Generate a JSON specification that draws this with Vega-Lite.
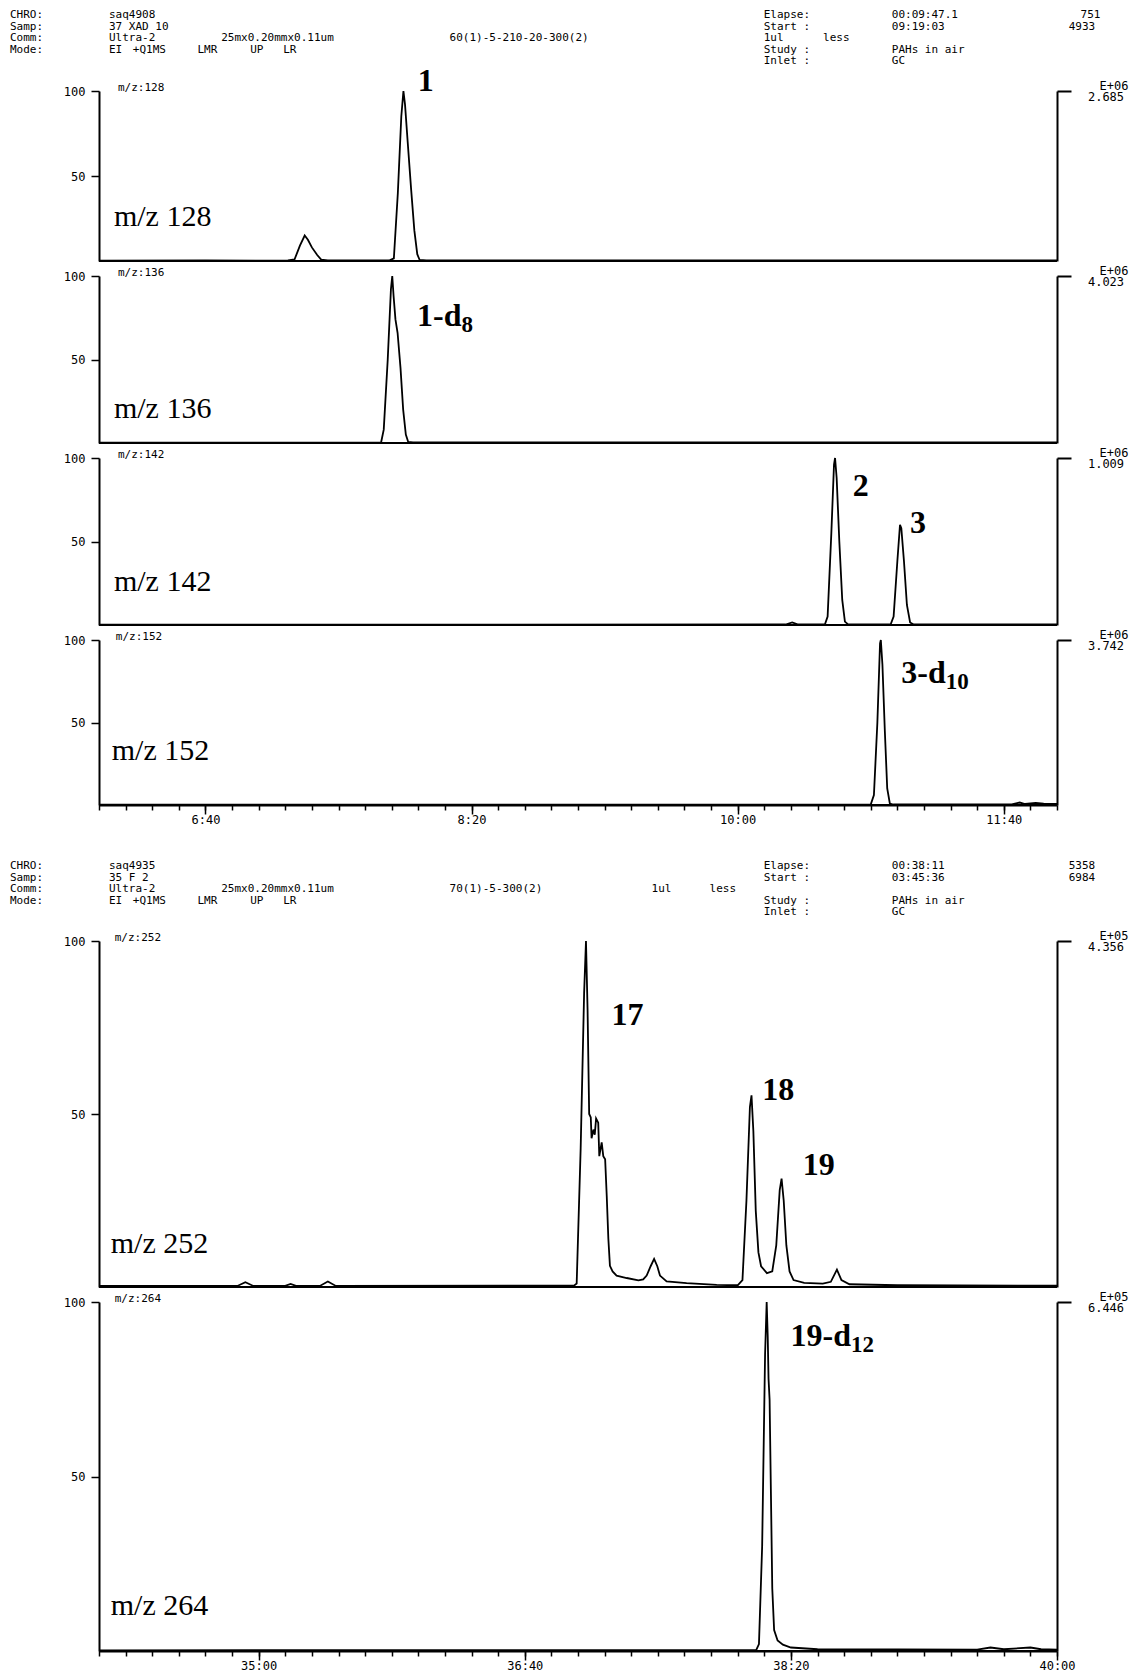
{
  "$schema": "https://vega.github.io/schema/vega-lite/v6.json",
  "padding": {"left": 10, "top": 0, "right": 0, "bottom": 0},
  "background": "white",
  "spacing": 15,
  "bounds": "flush",
  "resolve": {"scale": {"x": "independent", "y": "independent"}},
  "config": {
    "view": {"stroke": null},
    "axis": {"domainColor": "black", "tickColor": "black", "labelColor": "black", "labelFont": "DejaVu Sans Mono", "labelFontSize": 12, "domainWidth": 2, "tickWidth": 1.5, "grid": false},
    "text": {"color": "black"}
  },
  "datasets": {
    "head1": [
      {"line": 1, "col": 0, "text": "CHRO:"}, {"line": 1, "col": 7.5, "text": "saq4908"}, {"line": 1, "col": 57.1, "text": "Elapse:"}, {"line": 1, "col": 66.8, "text": "00:09:47.1"}, {"line": 1, "col": 81.1, "text": "751"},
      {"line": 2, "col": 0, "text": "Samp:"}, {"line": 2, "col": 7.5, "text": "37 XAD 10"}, {"line": 2, "col": 57.1, "text": "Start :"}, {"line": 2, "col": 66.8, "text": "09:19:03"}, {"line": 2, "col": 80.2, "text": "4933"},
      {"line": 3, "col": 0, "text": "Comm:"}, {"line": 3, "col": 7.5, "text": "Ultra-2"}, {"line": 3, "col": 16, "text": "25mx0.20mmx0.11um"}, {"line": 3, "col": 33.3, "text": "60(1)-5-210-20-300(2)"}, {"line": 3, "col": 57.1, "text": "1ul"}, {"line": 3, "col": 61.6, "text": "less"},
      {"line": 4, "col": 0, "text": "Mode:"}, {"line": 4, "col": 7.5, "text": "EI"}, {"line": 4, "col": 9.3, "text": "+Q1MS"}, {"line": 4, "col": 14.2, "text": "LMR"}, {"line": 4, "col": 18.2, "text": "UP"}, {"line": 4, "col": 20.7, "text": "LR"}, {"line": 4, "col": 57.1, "text": "Study :"}, {"line": 4, "col": 66.8, "text": "PAHs in air"},
      {"line": 5, "col": 57.1, "text": "Inlet :"}, {"line": 5, "col": 66.8, "text": "GC"}
    ],
    "head2": [
      {"line": 1, "col": 0, "text": "CHRO:"}, {"line": 1, "col": 7.5, "text": "saq4935"}, {"line": 1, "col": 57.1, "text": "Elapse:"}, {"line": 1, "col": 66.8, "text": "00:38:11"}, {"line": 1, "col": 80.2, "text": "5358"},
      {"line": 2, "col": 0, "text": "Samp:"}, {"line": 2, "col": 7.5, "text": "35 F 2"}, {"line": 2, "col": 57.1, "text": "Start :"}, {"line": 2, "col": 66.8, "text": "03:45:36"}, {"line": 2, "col": 80.2, "text": "6984"},
      {"line": 3, "col": 0, "text": "Comm:"}, {"line": 3, "col": 7.5, "text": "Ultra-2"}, {"line": 3, "col": 16, "text": "25mx0.20mmx0.11um"}, {"line": 3, "col": 33.3, "text": "70(1)-5-300(2)"}, {"line": 3, "col": 48.6, "text": "1ul"}, {"line": 3, "col": 53, "text": "less"},
      {"line": 4, "col": 0, "text": "Mode:"}, {"line": 4, "col": 7.5, "text": "EI"}, {"line": 4, "col": 9.3, "text": "+Q1MS"}, {"line": 4, "col": 14.2, "text": "LMR"}, {"line": 4, "col": 18.2, "text": "UP"}, {"line": 4, "col": 20.7, "text": "LR"}, {"line": 4, "col": 57.1, "text": "Study :"}, {"line": 4, "col": 66.8, "text": "PAHs in air"},
      {"line": 5, "col": 57.1, "text": "Inlet :"}, {"line": 5, "col": 66.8, "text": "GC"}
    ],
    "info": [
      {"p": "128", "t": 365.6, "i": 26, "name": "m/z 128", "tag": "m/z:128", "exp": "E+06", "scale": "2.685"},
      {"p": "136", "t": 365.6, "i": 20.4, "name": "m/z 136", "tag": "m/z:136", "exp": "E+06", "scale": "4.023"},
      {"p": "142", "t": 365.6, "i": 25.8, "name": "m/z 142", "tag": "m/z:142", "exp": "E+06", "scale": "1.009"},
      {"p": "152", "t": 364.8, "i": 32.7, "name": "m/z 152", "tag": "m/z:152", "exp": "E+06", "scale": "3.742"},
      {"p": "252", "t": 2044.4, "i": 12.4, "name": "m/z 252", "tag": "m/z:252", "exp": "E+05", "scale": "4.356"},
      {"p": "264", "t": 2044.4, "i": 12.9, "name": "m/z 264", "tag": "m/z:264", "exp": "E+05", "scale": "6.446"}
    ],
    "peaks": [
      {"p": "128", "t": 485.8, "i": 106, "label": "1", "sub": ""},
      {"p": "136", "t": 496.2, "i": 75.8, "label": "1-d", "sub": "8"},
      {"p": "142", "t": 649.3, "i": 83.2, "label": "2", "sub": ""},
      {"p": "142", "t": 670.8, "i": 61.3, "label": "3", "sub": ""},
      {"p": "152", "t": 678.2, "i": 79.7, "label": "3-d", "sub": "10"},
      {"p": "252", "t": 2244.6, "i": 78.6, "label": "17", "sub": ""},
      {"p": "252", "t": 2301.3, "i": 57, "label": "18", "sub": ""},
      {"p": "252", "t": 2316.5, "i": 35.3, "label": "19", "sub": ""},
      {"p": "264", "t": 2322.6, "i": 90.2, "label": "19-d", "sub": "12"}
    ],
    "traces": [
      {"p": "128", "t": 360, "i": 0.2}, {"p": "128", "t": 400, "i": 0.3}, {"p": "128", "t": 425, "i": 0.2}, {"p": "128", "t": 431, "i": 0.4}, {"p": "128", "t": 433.5, "i": 1}, {"p": "128", "t": 435.5, "i": 9}, {"p": "128", "t": 437.3, "i": 15}, {"p": "128", "t": 438.5, "i": 12.5}, {"p": "128", "t": 440, "i": 8}, {"p": "128", "t": 442, "i": 3.5}, {"p": "128", "t": 443.5, "i": 0.8}, {"p": "128", "t": 446, "i": 0.3}, {"p": "128", "t": 469, "i": 0.3}, {"p": "128", "t": 470.8, "i": 1.5}, {"p": "128", "t": 472.3, "i": 40}, {"p": "128", "t": 473.6, "i": 85}, {"p": "128", "t": 474.4, "i": 100}, {"p": "128", "t": 475, "i": 92}, {"p": "128", "t": 476, "i": 70}, {"p": "128", "t": 477.3, "i": 42}, {"p": "128", "t": 478.5, "i": 18}, {"p": "128", "t": 479.6, "i": 4}, {"p": "128", "t": 480.5, "i": 0.6}, {"p": "128", "t": 483, "i": 0.3}, {"p": "128", "t": 720, "i": 0.3},
      {"p": "136", "t": 360, "i": 0.2}, {"p": "136", "t": 466, "i": 0.3}, {"p": "136", "t": 467, "i": 8}, {"p": "136", "t": 468.5, "i": 50}, {"p": "136", "t": 469.7, "i": 92}, {"p": "136", "t": 470.2, "i": 100}, {"p": "136", "t": 470.7, "i": 88}, {"p": "136", "t": 471.4, "i": 74}, {"p": "136", "t": 472.2, "i": 66}, {"p": "136", "t": 473.3, "i": 45}, {"p": "136", "t": 474.3, "i": 20}, {"p": "136", "t": 475.3, "i": 5}, {"p": "136", "t": 476.2, "i": 0.6}, {"p": "136", "t": 478, "i": 0.3}, {"p": "136", "t": 720, "i": 0.3},
      {"p": "142", "t": 360, "i": 0.2}, {"p": "142", "t": 618, "i": 0.3}, {"p": "142", "t": 620.5, "i": 1.5}, {"p": "142", "t": 622.5, "i": 0.4}, {"p": "142", "t": 632.8, "i": 0.4}, {"p": "142", "t": 633.8, "i": 5}, {"p": "142", "t": 635.2, "i": 55}, {"p": "142", "t": 636.2, "i": 96}, {"p": "142", "t": 636.6, "i": 100}, {"p": "142", "t": 637.2, "i": 88}, {"p": "142", "t": 638.2, "i": 50}, {"p": "142", "t": 639.3, "i": 15}, {"p": "142", "t": 640.3, "i": 2}, {"p": "142", "t": 641.5, "i": 0.4}, {"p": "142", "t": 657.5, "i": 0.4}, {"p": "142", "t": 658.6, "i": 5}, {"p": "142", "t": 660, "i": 38}, {"p": "142", "t": 661, "i": 60}, {"p": "142", "t": 661.5, "i": 58}, {"p": "142", "t": 662.5, "i": 38}, {"p": "142", "t": 663.6, "i": 12}, {"p": "142", "t": 664.8, "i": 1.5}, {"p": "142", "t": 666, "i": 0.4}, {"p": "142", "t": 720, "i": 0.3},
      {"p": "152", "t": 360, "i": 0.2}, {"p": "152", "t": 650, "i": 0.3}, {"p": "152", "t": 651.2, "i": 6}, {"p": "152", "t": 652.5, "i": 50}, {"p": "152", "t": 653.5, "i": 98}, {"p": "152", "t": 653.8, "i": 100}, {"p": "152", "t": 654.4, "i": 85}, {"p": "152", "t": 655.3, "i": 45}, {"p": "152", "t": 656.2, "i": 10}, {"p": "152", "t": 657.2, "i": 0.8}, {"p": "152", "t": 658.5, "i": 0.3}, {"p": "152", "t": 703, "i": 0.4}, {"p": "152", "t": 706, "i": 1.5}, {"p": "152", "t": 708, "i": 0.6}, {"p": "152", "t": 712, "i": 1.2}, {"p": "152", "t": 715, "i": 0.8}, {"p": "152", "t": 720, "i": 0.6},
      {"p": "252", "t": 2040, "i": 0.3}, {"p": "252", "t": 2092, "i": 0.3}, {"p": "252", "t": 2095, "i": 1.4}, {"p": "252", "t": 2098, "i": 0.3}, {"p": "252", "t": 2110, "i": 0.3}, {"p": "252", "t": 2112, "i": 0.9}, {"p": "252", "t": 2114, "i": 0.3}, {"p": "252", "t": 2123, "i": 0.3}, {"p": "252", "t": 2126, "i": 1.6}, {"p": "252", "t": 2129, "i": 0.3}, {"p": "252", "t": 2218.5, "i": 0.4}, {"p": "252", "t": 2219.5, "i": 1}, {"p": "252", "t": 2221, "i": 40}, {"p": "252", "t": 2222.3, "i": 85}, {"p": "252", "t": 2223, "i": 100}, {"p": "252", "t": 2223.6, "i": 80}, {"p": "252", "t": 2224.2, "i": 50}, {"p": "252", "t": 2224.8, "i": 49}, {"p": "252", "t": 2225.1, "i": 43}, {"p": "252", "t": 2225.8, "i": 45.5}, {"p": "252", "t": 2226.3, "i": 44}, {"p": "252", "t": 2226.8, "i": 48.7}, {"p": "252", "t": 2227.6, "i": 47.5}, {"p": "252", "t": 2228, "i": 37.8}, {"p": "252", "t": 2228.9, "i": 41.8}, {"p": "252", "t": 2229.5, "i": 37.8}, {"p": "252", "t": 2230.2, "i": 36.9}, {"p": "252", "t": 2230.8, "i": 26.3}, {"p": "252", "t": 2231.4, "i": 14}, {"p": "252", "t": 2232, "i": 6.1}, {"p": "252", "t": 2233, "i": 4.5}, {"p": "252", "t": 2234.5, "i": 3.3}, {"p": "252", "t": 2238.3, "i": 2.6}, {"p": "252", "t": 2242.7, "i": 1.9}, {"p": "252", "t": 2244.5, "i": 2.2}, {"p": "252", "t": 2245.8, "i": 3.3}, {"p": "252", "t": 2247.3, "i": 6}, {"p": "252", "t": 2248.6, "i": 8.1}, {"p": "252", "t": 2249.8, "i": 6}, {"p": "252", "t": 2250.8, "i": 3.3}, {"p": "252", "t": 2253.3, "i": 1.6}, {"p": "252", "t": 2260.8, "i": 1.1}, {"p": "252", "t": 2272.1, "i": 0.6}, {"p": "252", "t": 2280, "i": 0.5}, {"p": "252", "t": 2281.8, "i": 2}, {"p": "252", "t": 2283.3, "i": 25}, {"p": "252", "t": 2284.6, "i": 52}, {"p": "252", "t": 2285.2, "i": 55.4}, {"p": "252", "t": 2285.9, "i": 45}, {"p": "252", "t": 2286.8, "i": 22}, {"p": "252", "t": 2287.8, "i": 10}, {"p": "252", "t": 2288.8, "i": 6}, {"p": "252", "t": 2291, "i": 4}, {"p": "252", "t": 2293, "i": 4.5}, {"p": "252", "t": 2294.5, "i": 12}, {"p": "252", "t": 2295.8, "i": 28}, {"p": "252", "t": 2296.5, "i": 31.3}, {"p": "252", "t": 2297.3, "i": 25}, {"p": "252", "t": 2298.3, "i": 12}, {"p": "252", "t": 2299.5, "i": 4.5}, {"p": "252", "t": 2301, "i": 2}, {"p": "252", "t": 2305, "i": 1.2}, {"p": "252", "t": 2312, "i": 1}, {"p": "252", "t": 2315, "i": 1.5}, {"p": "252", "t": 2317.3, "i": 5}, {"p": "252", "t": 2319, "i": 2}, {"p": "252", "t": 2322, "i": 0.8}, {"p": "252", "t": 2340, "i": 0.5}, {"p": "252", "t": 2400, "i": 0.4},
      {"p": "264", "t": 2040, "i": 0.2}, {"p": "264", "t": 2287, "i": 0.3}, {"p": "264", "t": 2288, "i": 2}, {"p": "264", "t": 2289.2, "i": 30}, {"p": "264", "t": 2290.3, "i": 85}, {"p": "264", "t": 2290.9, "i": 100}, {"p": "264", "t": 2291.3, "i": 90}, {"p": "264", "t": 2291.6, "i": 78}, {"p": "264", "t": 2292, "i": 72}, {"p": "264", "t": 2292.5, "i": 45}, {"p": "264", "t": 2293, "i": 18}, {"p": "264", "t": 2293.7, "i": 6}, {"p": "264", "t": 2295, "i": 3}, {"p": "264", "t": 2297, "i": 1.8}, {"p": "264", "t": 2300, "i": 1}, {"p": "264", "t": 2310, "i": 0.5}, {"p": "264", "t": 2370, "i": 0.4}, {"p": "264", "t": 2375, "i": 1}, {"p": "264", "t": 2380, "i": 0.5}, {"p": "264", "t": 2390, "i": 1}, {"p": "264", "t": 2394, "i": 0.5}, {"p": "264", "t": 2400, "i": 0.4}
    ]
  },
  "vconcat": [
    {
      "width": 958, "height": 76,
      "data": {"name": "head1"},
      "mark": {"type": "text", "align": "left", "baseline": "middle", "font": "DejaVu Sans Mono", "fontSize": 11},
      "encoding": {
        "x": {"field": "col", "type": "quantitative", "scale": {"domain": [0, 83], "range": [-89, 1006.6], "nice": false, "zero": false}, "axis": null},
        "y": {"field": "line", "type": "quantitative", "scale": {"domain": [1, 5], "range": [15, 61], "nice": false, "zero": false}, "axis": null},
        "text": {"field": "text"}
      }
    },
    {
      "width": 958, "height": 170,
      "resolve": {"axis": {"y": "independent"}},
      "layer": [
        {"data": {"values": [{}]}, "mark": {"type": "rule", "color": "black", "strokeWidth": 2}, "encoding": {"y": {"datum": 0, "scale": {"domain": [0, 100], "nice": false}, "axis": {"orient": "right", "values": [100], "labels": false, "tickSize": 14, "tickWidth": 2, "title": null}}}},
        {"data": {"name": "traces"}, "transform": [{"filter": "datum.p === '128'"}], "mark": {"type": "line", "color": "black", "strokeWidth": 1.8}, "encoding": {"x": {"field": "t", "type": "quantitative", "scale": {"domain": [360, 720], "nice": false, "zero": false}, "axis": null}, "y": {"field": "i", "type": "quantitative", "axis": {"orient": "left", "values": [50, 100], "tickSize": 8, "labelPadding": 6, "title": null}}}},
        {"data": {"name": "info"}, "transform": [{"filter": "datum.p === '128'"}], "mark": {"type": "text", "font": "Liberation Serif", "fontSize": 30, "align": "left", "baseline": "middle"}, "encoding": {"x": {"field": "t", "type": "quantitative", "axis": null}, "y": {"field": "i", "type": "quantitative", "axis": null}, "text": {"field": "name"}}},
        {"data": {"name": "info"}, "transform": [{"filter": "datum.p === '128'"}], "mark": {"type": "text", "font": "DejaVu Sans Mono", "fontSize": 11, "align": "left", "baseline": "middle", "dx": 4, "dy": -3}, "encoding": {"x": {"field": "t", "type": "quantitative", "axis": null}, "y": {"datum": 100, "axis": null}, "text": {"field": "tag"}}},
        {"data": {"name": "info"}, "transform": [{"filter": "datum.p === '128'"}], "mark": {"type": "text", "font": "DejaVu Sans Mono", "fontSize": 12, "align": "center", "baseline": "middle", "dx": 57, "dy": -5}, "encoding": {"x": {"datum": 720, "axis": null}, "y": {"datum": 100, "axis": null}, "text": {"field": "exp"}}},
        {"data": {"name": "info"}, "transform": [{"filter": "datum.p === '128'"}], "mark": {"type": "text", "font": "DejaVu Sans Mono", "fontSize": 12, "align": "center", "baseline": "middle", "dx": 49, "dy": 6}, "encoding": {"x": {"datum": 720, "axis": null}, "y": {"datum": 100, "axis": null}, "text": {"field": "scale"}}},
        {"data": {"name": "peaks"}, "transform": [{"filter": "datum.p === '128'"}], "mark": {"type": "text", "font": "Liberation Serif", "fontWeight": "bold", "fontSize": 32, "align": "right", "baseline": "middle"}, "encoding": {"x": {"field": "t", "type": "quantitative", "axis": null}, "y": {"field": "i", "type": "quantitative", "axis": null}, "text": {"field": "label"}}},
        {"data": {"name": "peaks"}, "transform": [{"filter": "datum.p === '128'"}], "mark": {"type": "text", "font": "Liberation Serif", "fontWeight": "bold", "fontSize": 23, "align": "left", "baseline": "middle", "dy": 9}, "encoding": {"x": {"field": "t", "type": "quantitative", "axis": null}, "y": {"field": "i", "type": "quantitative", "axis": null}, "text": {"field": "sub"}}}
      ]
    },
    {
      "width": 958, "height": 167,
      "resolve": {"axis": {"y": "independent"}},
      "layer": [
        {"data": {"values": [{}]}, "mark": {"type": "rule", "color": "black", "strokeWidth": 2}, "encoding": {"y": {"datum": 0, "scale": {"domain": [0, 100], "nice": false}, "axis": {"orient": "right", "values": [100], "labels": false, "tickSize": 14, "tickWidth": 2, "title": null}}}},
        {"data": {"name": "traces"}, "transform": [{"filter": "datum.p === '136'"}], "mark": {"type": "line", "color": "black", "strokeWidth": 1.8}, "encoding": {"x": {"field": "t", "type": "quantitative", "scale": {"domain": [360, 720], "nice": false, "zero": false}, "axis": null}, "y": {"field": "i", "type": "quantitative", "axis": {"orient": "left", "values": [50, 100], "tickSize": 8, "labelPadding": 6, "title": null}}}},
        {"data": {"name": "info"}, "transform": [{"filter": "datum.p === '136'"}], "mark": {"type": "text", "font": "Liberation Serif", "fontSize": 30, "align": "left", "baseline": "middle"}, "encoding": {"x": {"field": "t", "type": "quantitative", "axis": null}, "y": {"field": "i", "type": "quantitative", "axis": null}, "text": {"field": "name"}}},
        {"data": {"name": "info"}, "transform": [{"filter": "datum.p === '136'"}], "mark": {"type": "text", "font": "DejaVu Sans Mono", "fontSize": 11, "align": "left", "baseline": "middle", "dx": 4, "dy": -3}, "encoding": {"x": {"field": "t", "type": "quantitative", "axis": null}, "y": {"datum": 100, "axis": null}, "text": {"field": "tag"}}},
        {"data": {"name": "info"}, "transform": [{"filter": "datum.p === '136'"}], "mark": {"type": "text", "font": "DejaVu Sans Mono", "fontSize": 12, "align": "center", "baseline": "middle", "dx": 57, "dy": -5}, "encoding": {"x": {"datum": 720, "axis": null}, "y": {"datum": 100, "axis": null}, "text": {"field": "exp"}}},
        {"data": {"name": "info"}, "transform": [{"filter": "datum.p === '136'"}], "mark": {"type": "text", "font": "DejaVu Sans Mono", "fontSize": 12, "align": "center", "baseline": "middle", "dx": 49, "dy": 6}, "encoding": {"x": {"datum": 720, "axis": null}, "y": {"datum": 100, "axis": null}, "text": {"field": "scale"}}},
        {"data": {"name": "peaks"}, "transform": [{"filter": "datum.p === '136'"}], "mark": {"type": "text", "font": "Liberation Serif", "fontWeight": "bold", "fontSize": 32, "align": "right", "baseline": "middle"}, "encoding": {"x": {"field": "t", "type": "quantitative", "axis": null}, "y": {"field": "i", "type": "quantitative", "axis": null}, "text": {"field": "label"}}},
        {"data": {"name": "peaks"}, "transform": [{"filter": "datum.p === '136'"}], "mark": {"type": "text", "font": "Liberation Serif", "fontWeight": "bold", "fontSize": 23, "align": "left", "baseline": "middle", "dy": 9}, "encoding": {"x": {"field": "t", "type": "quantitative", "axis": null}, "y": {"field": "i", "type": "quantitative", "axis": null}, "text": {"field": "sub"}}}
      ]
    },
    {
      "width": 958, "height": 167,
      "resolve": {"axis": {"y": "independent"}},
      "layer": [
        {"data": {"values": [{}]}, "mark": {"type": "rule", "color": "black", "strokeWidth": 2}, "encoding": {"y": {"datum": 0, "scale": {"domain": [0, 100], "nice": false}, "axis": {"orient": "right", "values": [100], "labels": false, "tickSize": 14, "tickWidth": 2, "title": null}}}},
        {"data": {"name": "traces"}, "transform": [{"filter": "datum.p === '142'"}], "mark": {"type": "line", "color": "black", "strokeWidth": 1.8}, "encoding": {"x": {"field": "t", "type": "quantitative", "scale": {"domain": [360, 720], "nice": false, "zero": false}, "axis": null}, "y": {"field": "i", "type": "quantitative", "axis": {"orient": "left", "values": [50, 100], "tickSize": 8, "labelPadding": 6, "title": null}}}},
        {"data": {"name": "info"}, "transform": [{"filter": "datum.p === '142'"}], "mark": {"type": "text", "font": "Liberation Serif", "fontSize": 30, "align": "left", "baseline": "middle"}, "encoding": {"x": {"field": "t", "type": "quantitative", "axis": null}, "y": {"field": "i", "type": "quantitative", "axis": null}, "text": {"field": "name"}}},
        {"data": {"name": "info"}, "transform": [{"filter": "datum.p === '142'"}], "mark": {"type": "text", "font": "DejaVu Sans Mono", "fontSize": 11, "align": "left", "baseline": "middle", "dx": 4, "dy": -3}, "encoding": {"x": {"field": "t", "type": "quantitative", "axis": null}, "y": {"datum": 100, "axis": null}, "text": {"field": "tag"}}},
        {"data": {"name": "info"}, "transform": [{"filter": "datum.p === '142'"}], "mark": {"type": "text", "font": "DejaVu Sans Mono", "fontSize": 12, "align": "center", "baseline": "middle", "dx": 57, "dy": -5}, "encoding": {"x": {"datum": 720, "axis": null}, "y": {"datum": 100, "axis": null}, "text": {"field": "exp"}}},
        {"data": {"name": "info"}, "transform": [{"filter": "datum.p === '142'"}], "mark": {"type": "text", "font": "DejaVu Sans Mono", "fontSize": 12, "align": "center", "baseline": "middle", "dx": 49, "dy": 6}, "encoding": {"x": {"datum": 720, "axis": null}, "y": {"datum": 100, "axis": null}, "text": {"field": "scale"}}},
        {"data": {"name": "peaks"}, "transform": [{"filter": "datum.p === '142'"}], "mark": {"type": "text", "font": "Liberation Serif", "fontWeight": "bold", "fontSize": 32, "align": "right", "baseline": "middle"}, "encoding": {"x": {"field": "t", "type": "quantitative", "axis": null}, "y": {"field": "i", "type": "quantitative", "axis": null}, "text": {"field": "label"}}},
        {"data": {"name": "peaks"}, "transform": [{"filter": "datum.p === '142'"}], "mark": {"type": "text", "font": "Liberation Serif", "fontWeight": "bold", "fontSize": 23, "align": "left", "baseline": "middle", "dy": 9}, "encoding": {"x": {"field": "t", "type": "quantitative", "axis": null}, "y": {"field": "i", "type": "quantitative", "axis": null}, "text": {"field": "sub"}}}
      ]
    },
    {
      "width": 958, "height": 165,
      "resolve": {"axis": {"x": "independent", "y": "independent"}},
      "layer": [
        {"data": {"values": [{}]}, "mark": {"type": "rule", "color": "black", "strokeWidth": 2}, "encoding": {"y": {"datum": 0, "scale": {"domain": [0, 100], "nice": false}, "axis": {"orient": "right", "values": [100], "labels": false, "tickSize": 14, "tickWidth": 2, "title": null}}}},
        {"data": {"name": "traces"}, "transform": [{"filter": "datum.p === '152'"}], "mark": {"type": "line", "color": "black", "strokeWidth": 1.8}, "encoding": {"x": {"field": "t", "type": "quantitative", "scale": {"domain": [360, 720], "nice": false, "zero": false}, "axis": {"orient": "bottom", "values": [360, 370, 380, 390, 400, 410, 420, 430, 440, 450, 460, 470, 480, 490, 500, 510, 520, 530, 540, 550, 560, 570, 580, 590, 600, 610, 620, 630, 640, 650, 660, 670, 680, 690, 700, 710, 720], "labelExpr": "datum.value % 100 === 0 ? floor(datum.value / 60) + ':' + (datum.value % 60 < 10 ? '0' : '') + (datum.value % 60) : ''", "tickSize": 5, "labelPadding": 4, "labelFlush": false, "labelOverlap": false, "title": null}}, "y": {"field": "i", "type": "quantitative", "axis": {"orient": "left", "values": [50, 100], "tickSize": 8, "labelPadding": 6, "title": null}}}},
        {"data": {"name": "info"}, "transform": [{"filter": "datum.p === '152'"}], "mark": {"type": "text", "font": "Liberation Serif", "fontSize": 30, "align": "left", "baseline": "middle"}, "encoding": {"x": {"field": "t", "type": "quantitative", "axis": {"orient": "bottom", "values": [400, 500, 600, 700], "labels": false, "domain": false, "tickSize": 9, "title": null}}, "y": {"field": "i", "type": "quantitative", "axis": null}, "text": {"field": "name"}}},
        {"data": {"name": "info"}, "transform": [{"filter": "datum.p === '152'"}], "mark": {"type": "text", "font": "DejaVu Sans Mono", "fontSize": 11, "align": "left", "baseline": "middle", "dx": 4, "dy": -3}, "encoding": {"x": {"field": "t", "type": "quantitative", "axis": null}, "y": {"datum": 100, "axis": null}, "text": {"field": "tag"}}},
        {"data": {"name": "info"}, "transform": [{"filter": "datum.p === '152'"}], "mark": {"type": "text", "font": "DejaVu Sans Mono", "fontSize": 12, "align": "center", "baseline": "middle", "dx": 57, "dy": -5}, "encoding": {"x": {"datum": 720, "axis": null}, "y": {"datum": 100, "axis": null}, "text": {"field": "exp"}}},
        {"data": {"name": "info"}, "transform": [{"filter": "datum.p === '152'"}], "mark": {"type": "text", "font": "DejaVu Sans Mono", "fontSize": 12, "align": "center", "baseline": "middle", "dx": 49, "dy": 6}, "encoding": {"x": {"datum": 720, "axis": null}, "y": {"datum": 100, "axis": null}, "text": {"field": "scale"}}},
        {"data": {"name": "peaks"}, "transform": [{"filter": "datum.p === '152'"}], "mark": {"type": "text", "font": "Liberation Serif", "fontWeight": "bold", "fontSize": 32, "align": "right", "baseline": "middle"}, "encoding": {"x": {"field": "t", "type": "quantitative", "axis": null}, "y": {"field": "i", "type": "quantitative", "axis": null}, "text": {"field": "label"}}},
        {"data": {"name": "peaks"}, "transform": [{"filter": "datum.p === '152'"}], "mark": {"type": "text", "font": "Liberation Serif", "fontWeight": "bold", "fontSize": 23, "align": "left", "baseline": "middle", "dy": 9}, "encoding": {"x": {"field": "t", "type": "quantitative", "axis": null}, "y": {"field": "i", "type": "quantitative", "axis": null}, "text": {"field": "sub"}}}
      ]
    },
    {
      "width": 958, "height": 106,
      "data": {"name": "head2"},
      "mark": {"type": "text", "align": "left", "baseline": "middle", "font": "DejaVu Sans Mono", "fontSize": 11},
      "encoding": {
        "x": {"field": "col", "type": "quantitative", "scale": {"domain": [0, 83], "range": [-89, 1006.6], "nice": false, "zero": false}, "axis": null},
        "y": {"field": "line", "type": "quantitative", "scale": {"domain": [1, 5], "range": [46, 92], "nice": false, "zero": false}, "axis": null},
        "text": {"field": "text"}
      }
    },
    {
      "width": 958, "height": 346,
      "resolve": {"axis": {"y": "independent"}},
      "layer": [
        {"data": {"values": [{}]}, "mark": {"type": "rule", "color": "black", "strokeWidth": 2}, "encoding": {"y": {"datum": 0, "scale": {"domain": [0, 100], "nice": false}, "axis": {"orient": "right", "values": [100], "labels": false, "tickSize": 14, "tickWidth": 2, "title": null}}}},
        {"data": {"name": "traces"}, "transform": [{"filter": "datum.p === '252'"}], "mark": {"type": "line", "color": "black", "strokeWidth": 1.8}, "encoding": {"x": {"field": "t", "type": "quantitative", "scale": {"domain": [2040, 2400], "nice": false, "zero": false}, "axis": null}, "y": {"field": "i", "type": "quantitative", "axis": {"orient": "left", "values": [50, 100], "tickSize": 8, "labelPadding": 6, "title": null}}}},
        {"data": {"name": "info"}, "transform": [{"filter": "datum.p === '252'"}], "mark": {"type": "text", "font": "Liberation Serif", "fontSize": 30, "align": "left", "baseline": "middle"}, "encoding": {"x": {"field": "t", "type": "quantitative", "axis": null}, "y": {"field": "i", "type": "quantitative", "axis": null}, "text": {"field": "name"}}},
        {"data": {"name": "info"}, "transform": [{"filter": "datum.p === '252'"}], "mark": {"type": "text", "font": "DejaVu Sans Mono", "fontSize": 11, "align": "left", "baseline": "middle", "dx": 4, "dy": -3}, "encoding": {"x": {"field": "t", "type": "quantitative", "axis": null}, "y": {"datum": 100, "axis": null}, "text": {"field": "tag"}}},
        {"data": {"name": "info"}, "transform": [{"filter": "datum.p === '252'"}], "mark": {"type": "text", "font": "DejaVu Sans Mono", "fontSize": 12, "align": "center", "baseline": "middle", "dx": 57, "dy": -5}, "encoding": {"x": {"datum": 2400, "axis": null}, "y": {"datum": 100, "axis": null}, "text": {"field": "exp"}}},
        {"data": {"name": "info"}, "transform": [{"filter": "datum.p === '252'"}], "mark": {"type": "text", "font": "DejaVu Sans Mono", "fontSize": 12, "align": "center", "baseline": "middle", "dx": 49, "dy": 6}, "encoding": {"x": {"datum": 2400, "axis": null}, "y": {"datum": 100, "axis": null}, "text": {"field": "scale"}}},
        {"data": {"name": "peaks"}, "transform": [{"filter": "datum.p === '252'"}], "mark": {"type": "text", "font": "Liberation Serif", "fontWeight": "bold", "fontSize": 32, "align": "right", "baseline": "middle"}, "encoding": {"x": {"field": "t", "type": "quantitative", "axis": null}, "y": {"field": "i", "type": "quantitative", "axis": null}, "text": {"field": "label"}}},
        {"data": {"name": "peaks"}, "transform": [{"filter": "datum.p === '252'"}], "mark": {"type": "text", "font": "Liberation Serif", "fontWeight": "bold", "fontSize": 23, "align": "left", "baseline": "middle", "dy": 9}, "encoding": {"x": {"field": "t", "type": "quantitative", "axis": null}, "y": {"field": "i", "type": "quantitative", "axis": null}, "text": {"field": "sub"}}}
      ]
    },
    {
      "width": 958, "height": 349,
      "resolve": {"axis": {"x": "independent", "y": "independent"}},
      "layer": [
        {"data": {"values": [{}]}, "mark": {"type": "rule", "color": "black", "strokeWidth": 2}, "encoding": {"y": {"datum": 0, "scale": {"domain": [0, 100], "nice": false}, "axis": {"orient": "right", "values": [100], "labels": false, "tickSize": 14, "tickWidth": 2, "title": null}}}},
        {"data": {"name": "traces"}, "transform": [{"filter": "datum.p === '264'"}], "mark": {"type": "line", "color": "black", "strokeWidth": 1.8}, "encoding": {"x": {"field": "t", "type": "quantitative", "scale": {"domain": [2040, 2400], "nice": false, "zero": false}, "axis": {"orient": "bottom", "values": [2040, 2050, 2060, 2070, 2080, 2090, 2100, 2110, 2120, 2130, 2140, 2150, 2160, 2170, 2180, 2190, 2200, 2210, 2220, 2230, 2240, 2250, 2260, 2270, 2280, 2290, 2300, 2310, 2320, 2330, 2340, 2350, 2360, 2370, 2380, 2390, 2400], "labelExpr": "datum.value % 100 === 0 ? floor(datum.value / 60) + ':' + (datum.value % 60 < 10 ? '0' : '') + (datum.value % 60) : ''", "tickSize": 5, "labelPadding": 4, "labelFlush": false, "labelOverlap": false, "title": null}}, "y": {"field": "i", "type": "quantitative", "axis": {"orient": "left", "values": [50, 100], "tickSize": 8, "labelPadding": 6, "title": null}}}},
        {"data": {"name": "info"}, "transform": [{"filter": "datum.p === '264'"}], "mark": {"type": "text", "font": "Liberation Serif", "fontSize": 30, "align": "left", "baseline": "middle"}, "encoding": {"x": {"field": "t", "type": "quantitative", "axis": {"orient": "bottom", "values": [2100, 2200, 2300, 2400], "labels": false, "domain": false, "tickSize": 9, "title": null}}, "y": {"field": "i", "type": "quantitative", "axis": null}, "text": {"field": "name"}}},
        {"data": {"name": "info"}, "transform": [{"filter": "datum.p === '264'"}], "mark": {"type": "text", "font": "DejaVu Sans Mono", "fontSize": 11, "align": "left", "baseline": "middle", "dx": 4, "dy": -3}, "encoding": {"x": {"field": "t", "type": "quantitative", "axis": null}, "y": {"datum": 100, "axis": null}, "text": {"field": "tag"}}},
        {"data": {"name": "info"}, "transform": [{"filter": "datum.p === '264'"}], "mark": {"type": "text", "font": "DejaVu Sans Mono", "fontSize": 12, "align": "center", "baseline": "middle", "dx": 57, "dy": -5}, "encoding": {"x": {"datum": 2400, "axis": null}, "y": {"datum": 100, "axis": null}, "text": {"field": "exp"}}},
        {"data": {"name": "info"}, "transform": [{"filter": "datum.p === '264'"}], "mark": {"type": "text", "font": "DejaVu Sans Mono", "fontSize": 12, "align": "center", "baseline": "middle", "dx": 49, "dy": 6}, "encoding": {"x": {"datum": 2400, "axis": null}, "y": {"datum": 100, "axis": null}, "text": {"field": "scale"}}},
        {"data": {"name": "peaks"}, "transform": [{"filter": "datum.p === '264'"}], "mark": {"type": "text", "font": "Liberation Serif", "fontWeight": "bold", "fontSize": 32, "align": "right", "baseline": "middle"}, "encoding": {"x": {"field": "t", "type": "quantitative", "axis": null}, "y": {"field": "i", "type": "quantitative", "axis": null}, "text": {"field": "label"}}},
        {"data": {"name": "peaks"}, "transform": [{"filter": "datum.p === '264'"}], "mark": {"type": "text", "font": "Liberation Serif", "fontWeight": "bold", "fontSize": 23, "align": "left", "baseline": "middle", "dy": 9}, "encoding": {"x": {"field": "t", "type": "quantitative", "axis": null}, "y": {"field": "i", "type": "quantitative", "axis": null}, "text": {"field": "sub"}}}
      ]
    }
  ]
}
